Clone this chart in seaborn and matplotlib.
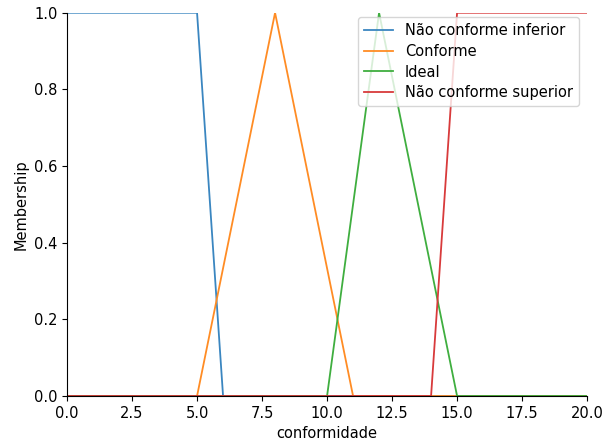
import matplotlib
matplotlib.use("Agg")
import matplotlib.pyplot as plt
import seaborn as sns
import pandas as pd

x_points = [0, 5, 6, 8, 10, 11, 12, 14, 15, 20]
nc_inferior = [1, 1, 0, 0, 0, 0, 0, 0, 0, 0]
conforme = [0, 0, 1/3, 1, 1/3, 0, 0, 0, 0, 0]
ideal = [0, 0, 0, 0, 0, 0.5, 1, 1/3, 0, 0]
nc_superior = [0, 0, 0, 0, 0, 0, 0, 0, 1, 1]
labels = ["Não conforme inferior", "Conforme", "Ideal", "Não conforme superior"]

frames = []
for lab, vals in zip(labels, [nc_inferior, conforme, ideal, nc_superior]):
    frames.append(pd.DataFrame({"x": x_points, "y": vals, "series": lab}))
df = pd.concat(frames, ignore_index=True)

plt.rcParams["font.size"] = 10.5
fig = plt.figure(figsize=(6.04, 4.41), dpi=100)
ax = fig.add_axes([0.111, 0.102, 0.861, 0.869])
sns.lineplot(data=df, x="x", y="y", hue="series", hue_order=labels,
             palette=["#3a86c0", "#ff8c24", "#3fae3f", "#d83a3b"],
             linewidth=1.3, ax=ax, estimator=None, sort=False)
ax.set_xlim(0, 20)
ax.set_ylim(0, 1.0)
ax.set_xlabel("conformidade")
ax.set_ylabel("Membership")
ax.spines["top"].set_visible(False)
ax.spines["right"].set_visible(False)
ax.legend(title=None, loc="upper right", bbox_to_anchor=(0.998, 1.008),
          labelspacing=0.4)
fig.savefig("out.png", dpi=100)
